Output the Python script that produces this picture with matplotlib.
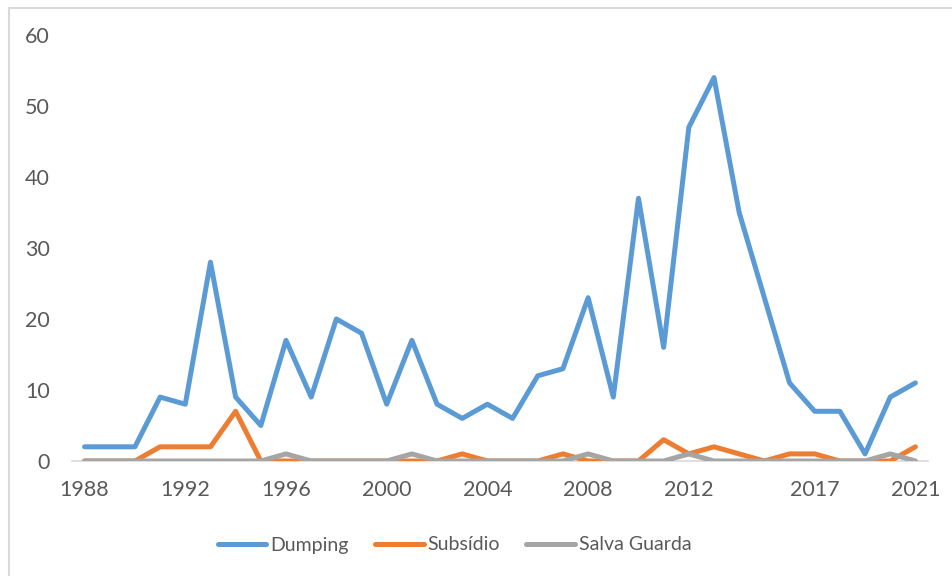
import matplotlib.pyplot as plt
from matplotlib.patches import Rectangle
import numpy as np

plt.rcParams['font.family'] = ['Lato', 'DejaVu Sans']

# data
years = list(range(1988, 2022))
dumping = [2, 2, 2, 9, 8, 28, 9, 5, 17, 9, 20, 18, 8, 17, 8, 6, 8, 6, 12, 13,
           23, 9, 37, 16, 47, 54, 35, 23, 11, 7, 7, 1, 9, 11]
subsidio = [0, 0, 0, 2, 2, 2, 7, 0, 0, 0, 0, 0, 0, 0, 0, 1, 0, 0, 0, 1,
            0, 0, 0, 3, 1, 2, 1, 0, 1, 1, 0, 0, 0, 2]
salva_guarda = [0, 0, 0, 0, 0, 0, 0, 0, 1, 0, 0, 0, 0, 1, 0, 0, 0, 0, 0, 0,
                1, 0, 0, 0, 1, 0, 0, 0, 0, 0, 0, 0, 1, 0]
tick_years = [1988, 1992, 1996, 2000, 2004, 2008, 2012, 2017, 2021]
yticks = [0, 10, 20, 30, 40, 50, 60]

fig = plt.figure(figsize=(9.53, 5.76), dpi=100)
ax = fig.add_axes([72/953, 1-461/576, (928-72)/953, (461-35)/576])

# chart area border (cut off on right and bottom)
fig.patches.append(Rectangle((9/953, -0.05), 1.1, 1-8/576+0.05, transform=fig.transFigure,
                             fill=False, edgecolor='#D9D9D9', linewidth=1.5))

lw = 3.6
ax.plot(years, dumping, color='#5B9BD5', lw=lw, solid_capstyle='round',
        solid_joinstyle='round', label='Dumping')
ax.plot(years, subsidio, color='#ED7D31', lw=lw, solid_capstyle='round',
        solid_joinstyle='round', label='Subsídio')
ax.plot(years, salva_guarda, color='#A5A5A5', lw=lw, solid_capstyle='round',
        solid_joinstyle='round', label='Salva Guarda')

ax.set_xlim(1987.5, 2021.5)
ax.set_ylim(0, 60)
ax.set_xticks(tick_years)
ax.set_xticklabels([str(y) for y in tick_years])
ax.set_yticks(yticks)

for s in ['top', 'right', 'left']:
    ax.spines[s].set_visible(False)
ax.spines['bottom'].set_color('#D9D9D9')
ax.spines['bottom'].set_linewidth(1.2)
ax.spines['bottom'].set_zorder(0)
ax.tick_params(axis='both', length=0, labelsize=15.5, labelcolor='#595959')
ax.tick_params(axis='y', pad=16)
ax.tick_params(axis='x', pad=14)

fig.legend(loc='center', bbox_to_anchor=(0.477, 1-545/576), ncol=3, frameon=False,
           fontsize=14, labelcolor='#595959', handlelength=2.5, handletextpad=0.2,
           columnspacing=1.35)

fig.savefig('out.png', dpi=100)
